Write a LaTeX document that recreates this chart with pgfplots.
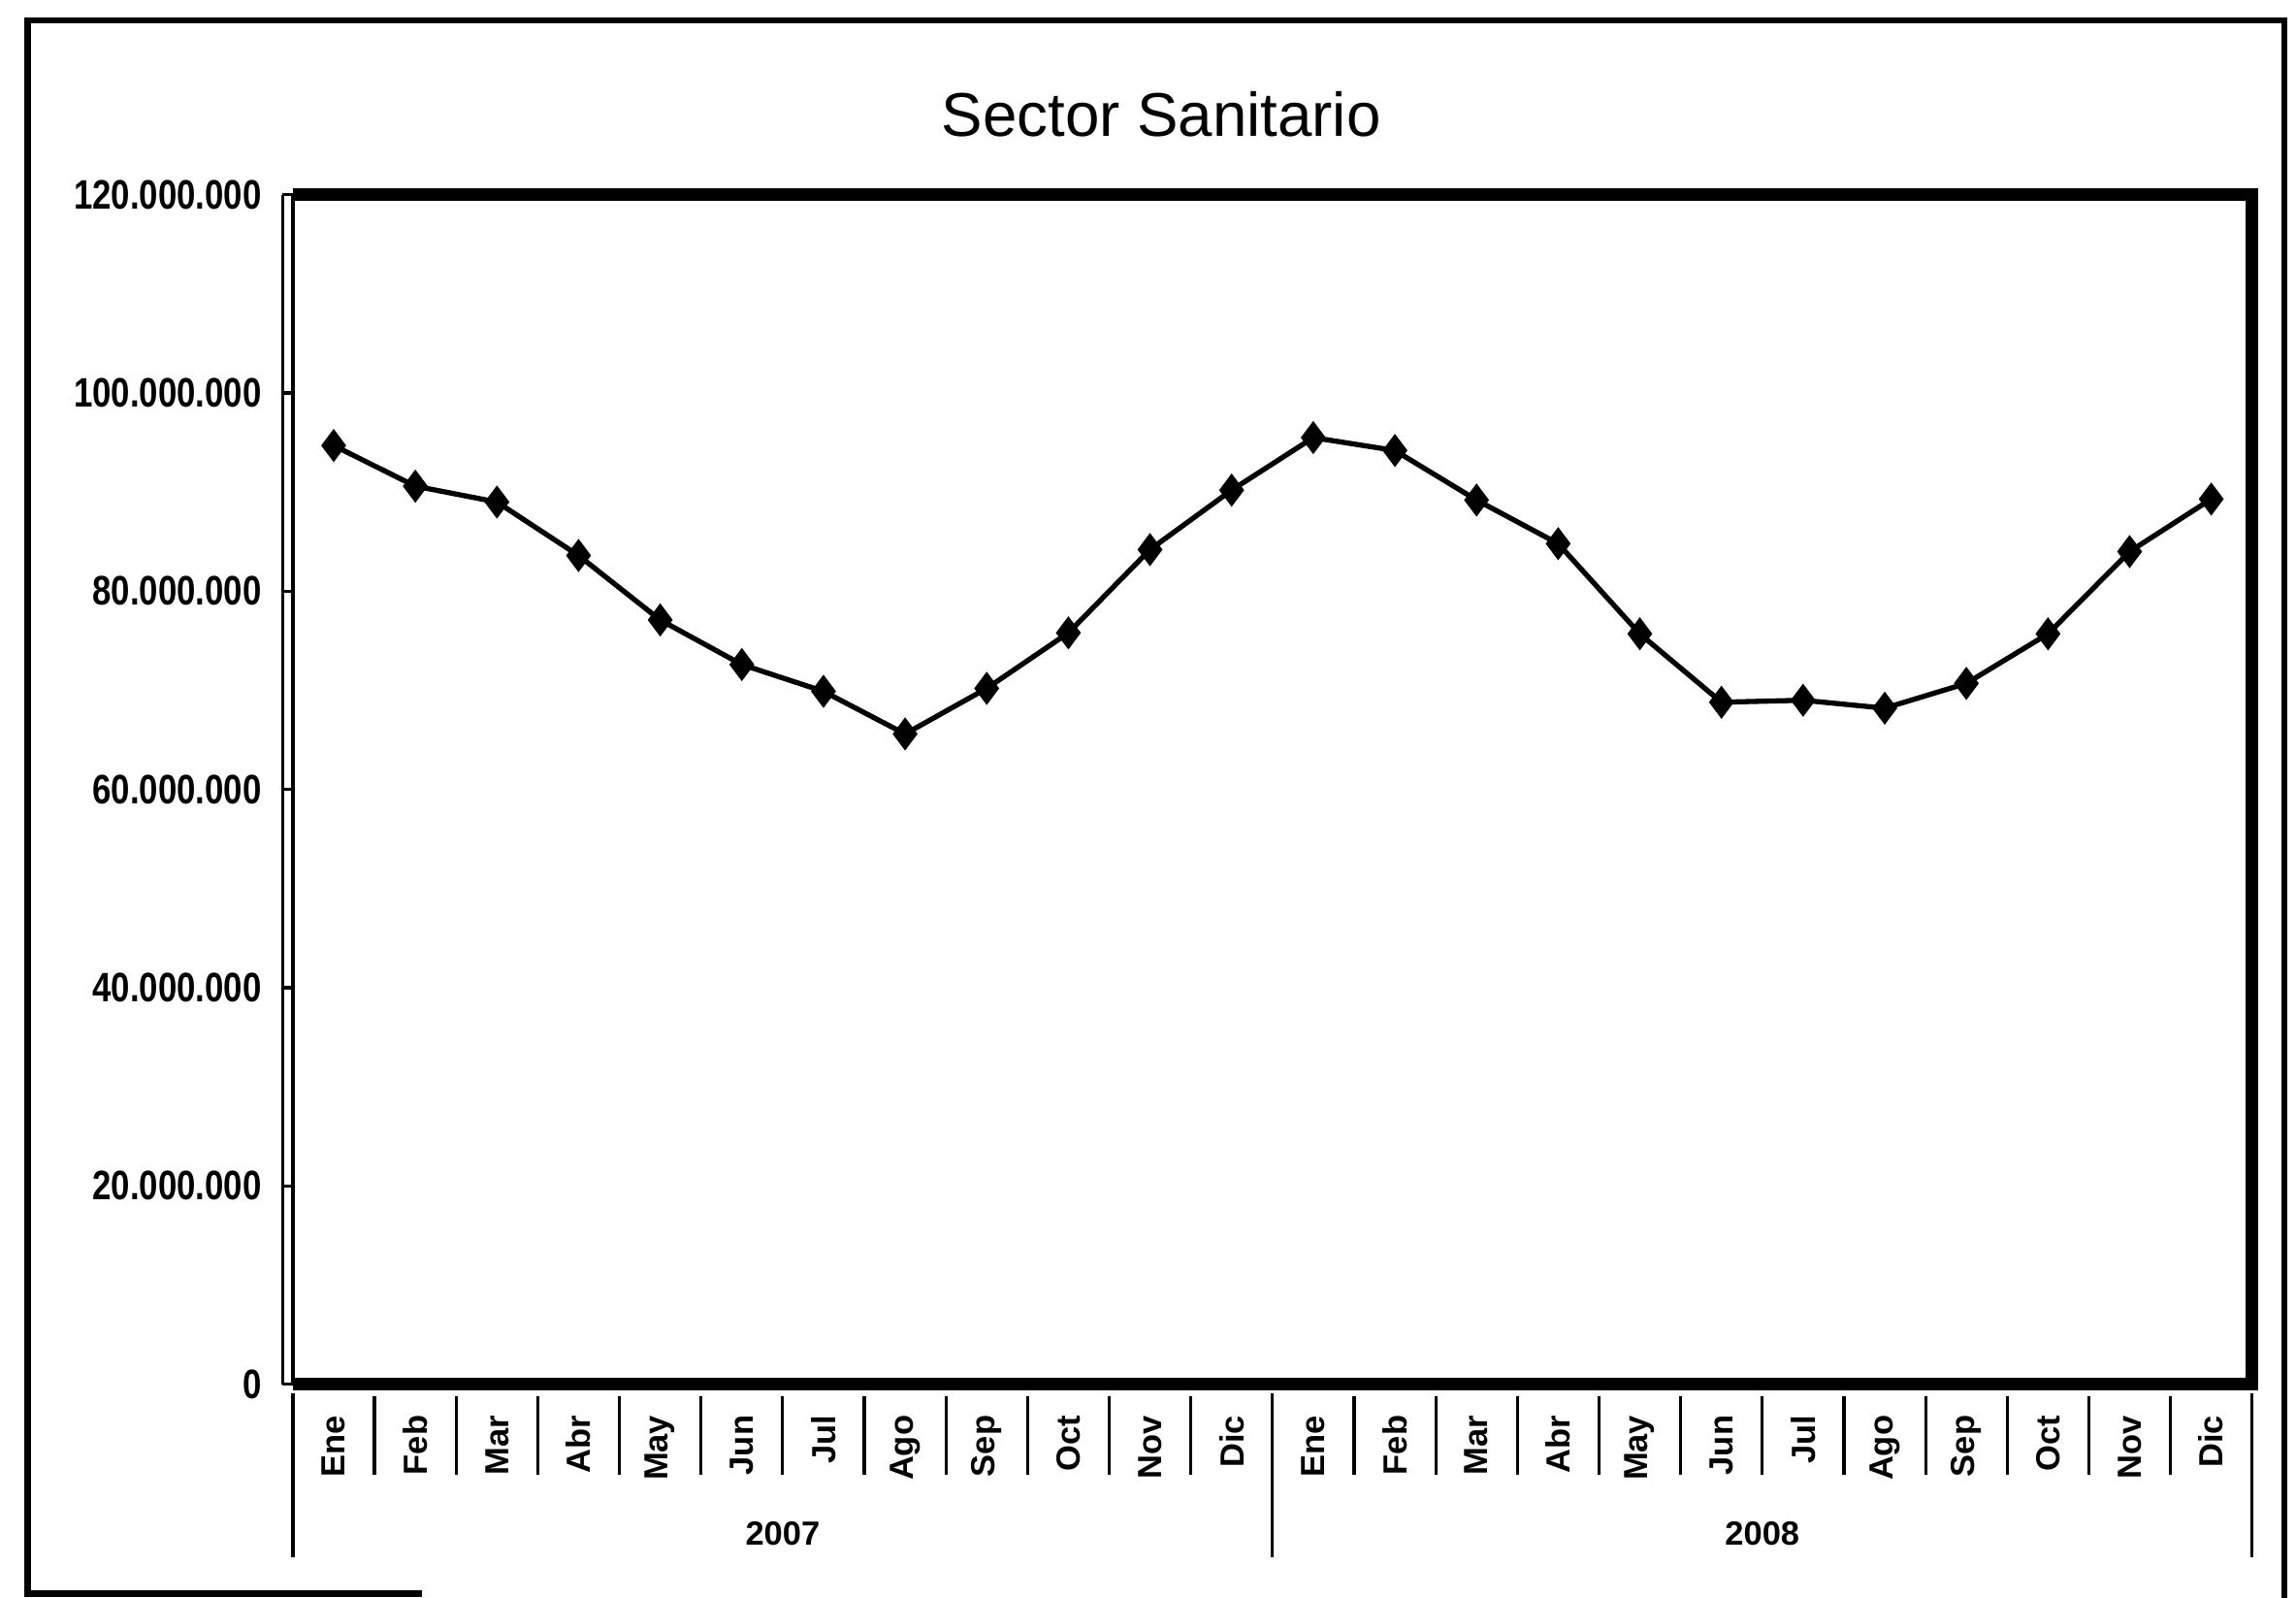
\documentclass[border=0pt]{standalone}
\usepackage{fontspec}
\setmainfont{Liberation Sans}
\newfontfamily\ylabfont{Liberation Sans}[FakeStretch=0.82]
\usepackage{pgfplots}
\pgfplotsset{compat=1.18}
\usepackage{pgfplotstable}

\pgfplotstableread{
x y
0 94700000
1 90600000
2 89000000
3 83600000
4 77100000
5 72600000
6 69900000
7 65600000
8 70200000
9 75800000
10 84200000
11 90200000
12 95500000
13 94200000
14 89200000
15 84800000
16 75700000
17 68800000
18 69000000
19 68200000
20 70700000
21 75700000
22 84000000
23 89300000
}\datatable

\begin{document}
\begin{tikzpicture}
\useasboundingbox (-2.00,-1.46) rectangle (13.68,9.45);
\begin{axis}[
  scale only axis,
  width=13.38cm, height=8.12cm,
  xmin=-0.5, xmax=23.5,
  ymin=0, ymax=120000000,
  clip=false,
  axis line style={draw=none},
  xtick={0,...,23},
  xticklabels={Ene,Feb,Mar,Abr,May,Jun,Jul,Ago,Sep,Oct,Nov,Dic,Ene,Feb,Mar,Abr,May,Jun,Jul,Ago,Sep,Oct,Nov,Dic},
  x tick style={draw=none},
  xticklabel style={yshift=-0.02cm, rotate=90, anchor=east, font=\bfseries\fontsize{6.5}{7}\selectfont},
  ytick={0,20000000,40000000,60000000,80000000,100000000,120000000},
  ytick pos=left,
  scaled y ticks=false,
  y tick style={black, line width=0.6pt},
  tick align=outside,
  major tick length=0.07cm,
  yticklabel style={xshift=-0.02cm, font=\ylabfont\bfseries\fontsize{8}{9}\selectfont,
    /pgf/number format/fixed, /pgf/number format/precision=0,
    /pgf/number format/1000 sep={.}, /pgf/number format/assume math mode=true},
]
\addplot[black, line width=1pt, mark=diamond*, mark size=2.4pt, mark options={fill=black}] table[x=x,y=y] {\datatable};
% plot area border
\draw[line width=2.5pt] (rel axis cs:0,1) -- (rel axis cs:1,1) -- (rel axis cs:1,0) -- (rel axis cs:0,0);
\draw[line width=0.6pt] (rel axis cs:0,0) -- (rel axis cs:0,1);
\draw[line width=0.6pt] ([xshift=-0.07cm]rel axis cs:0,0) -- ([xshift=-0.07cm]rel axis cs:0,1);
% category separators
\pgfplotsinvokeforeach{0.5,1.5,2.5,3.5,4.5,5.5,6.5,7.5,8.5,9.5,10.5,12.5,13.5,14.5,15.5,16.5,17.5,18.5,19.5,20.5,21.5,22.5}{
  \draw[line width=0.6pt] ([yshift=-0.08cm]axis cs:#1,0) -- ([yshift=-0.62cm]axis cs:#1,0);
}
\pgfplotsinvokeforeach{-0.5,11.5,23.5}{
  \draw[line width=0.6pt] ([yshift=-0.06cm]axis cs:#1,0) -- ([yshift=-1.18cm]axis cs:#1,0);
}
\node[font=\bfseries\fontsize{6.5}{7}\selectfont] at ([yshift=-1.02cm]axis cs:5.5,0) {2007};
\node[font=\bfseries\fontsize{6.5}{7}\selectfont] at ([yshift=-1.02cm]axis cs:17.5,0) {2008};
\end{axis}
\node[font=\fontsize{12}{14}\selectfont] at (5.93,8.67) {Sector Sanitario};
\draw[line width=1.2pt] (0.88,-1.43) -- (-1.81,-1.43) -- (-1.81,9.31) -- (13.60,9.31) -- (13.60,-1.46);
\end{tikzpicture}
\end{document}
